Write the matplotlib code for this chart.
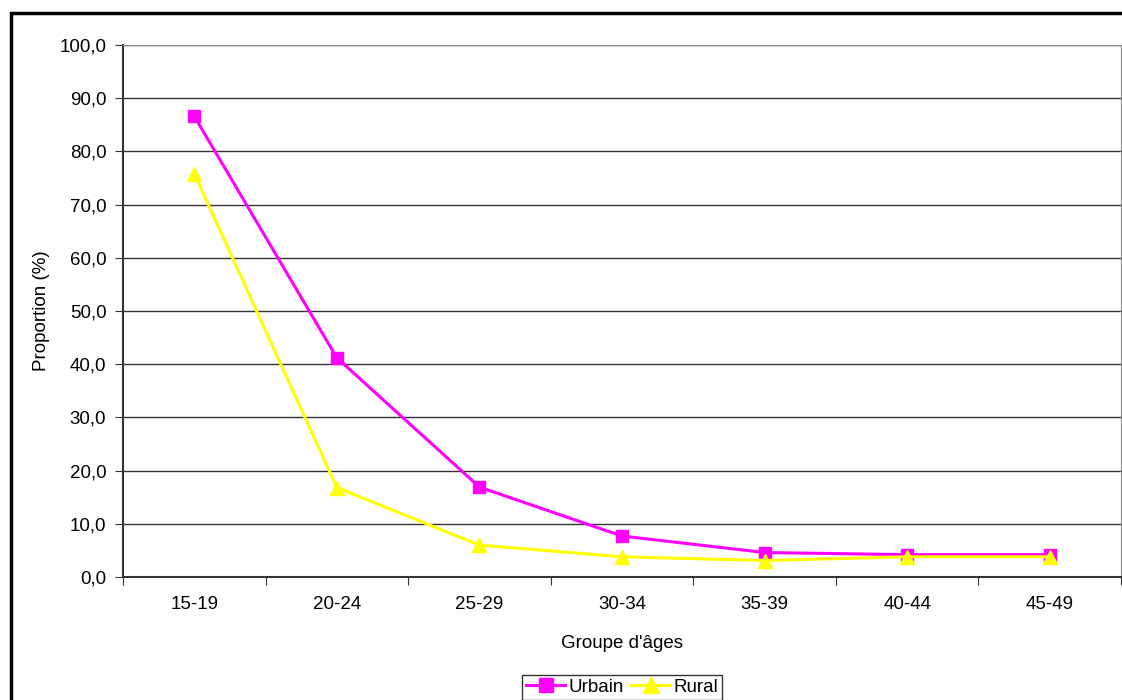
#!/usr/bin/env python3
"""Proportion by age group, urban vs rural."""
import matplotlib
matplotlib.use('Agg')
import matplotlib.pyplot as plt
from matplotlib.patches import Rectangle

plt.rcParams['font.family'] = ['Liberation Sans', 'DejaVu Sans']

age_groups = ['15-19', '20-24', '25-29', '30-34', '35-39', '40-44', '45-49']
urbain = [86.6, 41.2, 16.9, 7.7, 4.6, 4.2, 4.2]
rural = [75.8, 16.8, 6.0, 3.8, 3.1, 3.8, 3.8]
y_ticks = [0, 10, 20, 30, 40, 50, 60, 70, 80, 90, 100]

W, H = 1122, 700
FS = 13.5
fig = plt.figure(figsize=(W / 100, H / 100), dpi=100)
ax = fig.add_axes([123 / W, 1 - 577 / H, (1121 - 123) / W, (577 - 45) / H])

x = list(range(len(age_groups)))
ax.plot(x, urbain, color='#ff00ff', linewidth=2.2, marker='s', markersize=9,
        label='Urbain', zorder=3)
ax.plot(x, rural, color='#ffff00', linewidth=2.2, marker='^', markersize=10,
        label='Rural', zorder=3)

ax.set_xlim(-0.5, len(age_groups) - 0.5)
ax.set_ylim(0, 100)
ax.set_yticks(y_ticks)
ax.set_yticklabels([f"{v:.1f}".replace('.', ',') for v in y_ticks], fontsize=FS)
ax.set_xticks([i - 0.5 for i in range(len(age_groups) + 1)])
ax.set_xticklabels([])
ax.set_xticks(x, minor=True)
ax.set_xticklabels(age_groups, minor=True, fontsize=FS)
ax.tick_params(axis='x', which='minor', length=0, pad=14)
ax.tick_params(axis='x', which='major', direction='out', length=6, color='#333333')
ax.tick_params(axis='y', direction='out', length=6, color='#333333', pad=6)

ax.grid(axis='y', color='#333333', linewidth=1)
ax.set_axisbelow(True)
for side in ['top', 'right']:
    ax.spines[side].set_color('#888888')
for side in ['left', 'bottom']:
    ax.spines[side].set_color('#333333')
    ax.spines[side].set_linewidth(1.5)

ax.set_ylabel('Proportion (%)', fontsize=FS)
ax.set_xlabel("Groupe d'âges", fontsize=FS)
ax.yaxis.set_label_coords((42 - 123) / (1121 - 123), 0.5)
ax.xaxis.set_label_coords((622 - 123) / (1121 - 123), -(643 - 577) / (577 - 45))
ax.xaxis.label.set_va('center')
ax.yaxis.label.set_va('center')

leg = fig.legend(loc='upper center', bbox_to_anchor=(622 / W, 1 - 675 / H),
                 ncol=2, fontsize=FS, frameon=True, fancybox=False,
                 handlelength=2.1, handletextpad=0.15, columnspacing=0.4,
                 borderpad=0.2, borderaxespad=0, markerscale=1.1)
leg.get_frame().set_edgecolor('black')
leg.get_frame().set_linewidth(1)

# outer chart frame (cut at right and bottom edges like the original)
fig.patches.append(Rectangle((11 / W, -0.05), 1.2, 1 - 13 / H + 0.05,
                             transform=fig.transFigure, fill=False,
                             edgecolor='black', linewidth=2.5))

fig.savefig('out.png', dpi=100)
